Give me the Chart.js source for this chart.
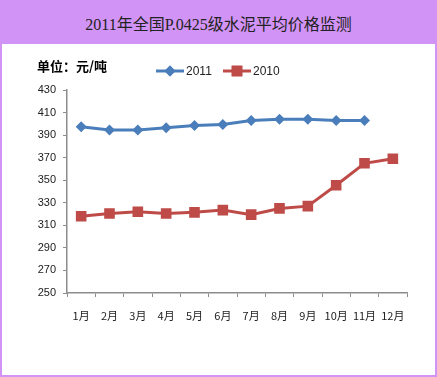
<!DOCTYPE html>
<html>
<head>
<meta charset="utf-8">
<script src="https://cdn.jsdelivr.net/npm/chart.js@4"></script>
<style>
    body { margin: 0; }
    #frame {
        position: relative;
        width: 437px;
        height: 377px;
        background: #d293f6;
    }
    #title {
        position: absolute;
        left: 0; top: 0;
        width: 437px; height: 44px;
        line-height: 50px;
        text-align: center;
        font-family: "Liberation Serif", "Noto Sans CJK SC", serif;
        font-size: 16px;
        color: #222;
    }
    #panel {
        position: absolute;
        left: 2px; top: 44px;
        width: 433px; height: 331px;
        background: #ffffff;
    }
</style>
</head>
<body>
<div id="frame">
    <div id="title">2011年全国P.0425级水泥平均价格监测</div>
    <div id="panel"><canvas id="chart" width="433" height="331"></canvas></div>
</div>
<script>
// chart data
const months = ['1月', '2月', '3月', '4月', '5月', '6月', '7月', '8月', '9月', '10月', '11月', '12月'];
const price2011 = [397.5, 394.5, 394.5, 396.5, 398.5, 399.5, 403, 404, 404, 403, 403, null];
const price2010 = [318, 320.5, 322, 320.5, 321.5, 323.5, 319.5, 325, 327, 345.5, 365, 369];
const yMin = 250, yMax = 430, yStep = 20;
const unitLabel = '单位：元/吨';

const blue = '#4a7ebb';
const red = '#be4b48';
const axisColor = '#8c8c8c';
const textColor = '#222222';

// legend + unit text drawn on top of the chart
const headerPlugin = {
    id: 'header',
    afterDraw(chart) {
        const ctx = chart.ctx;
        ctx.save();
        ctx.fillStyle = '#000';
        ctx.font = 'bold 13px "Noto Sans CJK SC", sans-serif';
        ctx.textBaseline = 'middle';
        ctx.textAlign = 'left';
        ctx.fillText(unitLabel, 35, 22);

        const items = [
            { ds: chart.data.datasets[0], x: 154 },
            { ds: chart.data.datasets[1], x: 221 }
        ];
        const y = 27;
        items.forEach(item => {
            ctx.strokeStyle = item.ds.borderColor;
            ctx.lineWidth = 3;
            ctx.beginPath();
            ctx.moveTo(item.x, y);
            ctx.lineTo(item.x + 28, y);
            ctx.stroke();
            Chart.helpers.drawPoint(ctx, {
                pointStyle: item.ds.pointStyle,
                rotation: 0,
                borderWidth: 0
            }, item.x + 14, y);
            ctx.fillStyle = item.ds.pointBackgroundColor;
            Chart.helpers.drawPoint(ctx, {
                pointStyle: item.ds.pointStyle,
                radius: item.ds.pointRadius,
                rotation: 0,
                borderWidth: 0
            }, item.x + 14, y);
            ctx.fill();
            ctx.fillStyle = textColor;
            ctx.font = '12px "Liberation Sans", sans-serif';
            ctx.fillText(item.ds.label, item.x + 30, y + 1);
        });
        ctx.restore();
    }
};

new Chart(document.getElementById('chart'), {
    type: 'line',
    data: {
        labels: months,
        datasets: [{
            label: '2011',
            data: price2011,
            borderColor: blue,
            backgroundColor: blue,
            pointBackgroundColor: blue,
            pointBorderColor: blue,
            pointBorderWidth: 0,
            pointStyle: 'rectRot',
            pointRadius: 5.5,
            borderWidth: 3,
            tension: 0,
            spanGaps: false
        }, {
            label: '2010',
            data: price2010,
            borderColor: red,
            backgroundColor: red,
            pointBackgroundColor: red,
            pointBorderColor: red,
            pointBorderWidth: 0,
            pointStyle: 'rect',
            pointRadius: 7.5,
            borderWidth: 3,
            tension: 0
        }]
    },
    options: {
        responsive: false,
        animation: false,
        layout: {
            padding: { left: 0, right: 28, top: 46, bottom: 0 }
        },
        plugins: {
            legend: { display: false },
            tooltip: { enabled: false }
        },
        scales: {
            x: {
                offset: true,
                grid: {
                    offset: true,
                    drawOnChartArea: false,
                    drawTicks: true,
                    tickLength: 4,
                    color: axisColor
                },
                border: { color: axisColor, width: 1.5 },
                ticks: {
                    color: textColor,
                    padding: 12,
                    maxRotation: 0,
                    autoSkip: false,
                    font: { size: 11, family: '"Noto Sans CJK SC", sans-serif' }
                },
                afterFit(scale) { scale.height = 82; }
            },
            y: {
                min: yMin,
                max: yMax,
                grid: {
                    drawOnChartArea: false,
                    drawTicks: true,
                    tickLength: 4,
                    color: axisColor
                },
                border: { color: axisColor, width: 1.5 },
                ticks: {
                    stepSize: yStep,
                    color: textColor,
                    padding: 7,
                    font: { size: 11, family: '"Liberation Sans", sans-serif' }
                },
                afterFit(scale) { scale.width = 65; }
            }
        }
    },
    plugins: [headerPlugin]
});
</script>
</body>
</html>
